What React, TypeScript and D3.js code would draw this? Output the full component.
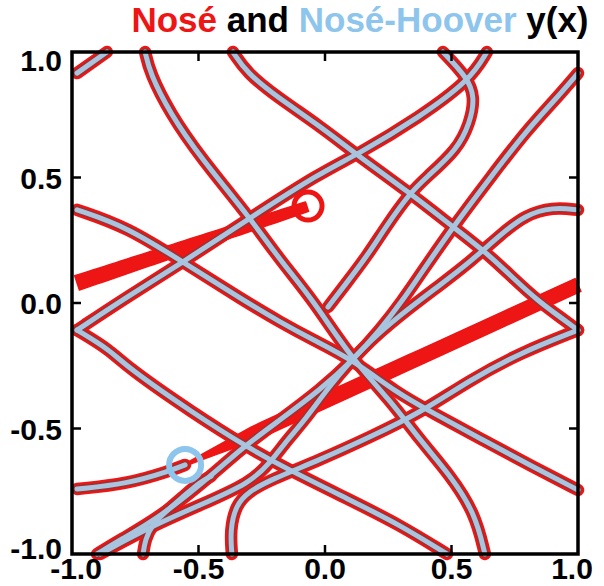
import React from 'react';
import * as d3 from 'd3';

type Pt = [number, number];

// Nosé-Hoover y(x) trajectory pieces, wrapped into the periodic box [-1,1]^2
const strandA: Pt[] = [[-0.98, 0.916], [-0.862, 1.0]];
const strandI: Pt[] = [[1.0, 0.916], [0.909, 0.809], [0.798, 0.689], [0.652, 0.498], [0.506, 0.303], [0.375, 0.112], [0.308, 0.012], [0.217, -0.108], [0.111, -0.227], [-0.02, -0.347], [-0.178, -0.466], [-0.324, -0.574], [-0.455, -0.693], [-0.652, -0.853], [-0.81, -0.944], [-0.901, -1.0]];
const strandB: Pt[] = [[-0.711, 1.0], [-0.692, 0.916], [-0.613, 0.757], [-0.494, 0.582], [-0.296, 0.339], [-0.178, 0.171], [-0.047, 0.012], [0.099, -0.215], [0.257, -0.386], [0.375, -0.546], [0.494, -0.685], [0.593, -0.837], [0.632, -1.0]];
const strandC: Pt[] = [[-0.364, 1.0], [-0.308, 0.916], [-0.19, 0.821], [-0.02, 0.705], [0.126, 0.59], [0.336, 0.438], [0.506, 0.303], [0.64, 0.199], [0.751, 0.092], [0.838, 0.012], [0.929, -0.056], [1.0, -0.108]];
const strandE: Pt[] = [[-0.98, -0.108], [-0.783, 0.024], [-0.561, 0.163], [-0.296, 0.339], [-0.02, 0.518], [0.126, 0.59], [0.375, 0.741], [0.573, 0.888], [0.64, 1.0]];
const strandH: Pt[] = [[0.466, 1.0], [0.561, 0.9], [0.593, 0.821], [0.573, 0.717], [0.522, 0.61], [0.4, 0.5], [0.336, 0.438], [0.245, 0.311], [0.165, 0.185], [0.079, 0.072], [0.012, -0.016]];
const strandL: Pt[] = [[-0.98, -0.108], [-0.85, -0.187], [-0.783, -0.255], [-0.522, -0.438], [-0.308, -0.574], [-0.166, -0.653], [0.099, -0.785], [0.296, -0.884], [0.482, -1.0]];
const strandD: Pt[] = [[-0.98, 0.371], [-0.783, 0.303], [-0.561, 0.163], [-0.324, 0.012], [-0.178, -0.076], [-0.047, -0.147], [0.111, -0.227], [0.285, -0.359], [0.427, -0.438], [0.625, -0.546], [0.822, -0.653], [1.0, -0.745]];
const strandN: Pt[] = [[-0.98, -0.741], [-0.783, -0.721], [-0.613, -0.669], [-0.553, -0.645]];
const strandJ: Pt[] = [[1.0, 0.371], [0.901, 0.382], [0.791, 0.351], [0.692, 0.271], [0.573, 0.163], [0.455, 0.072], [0.296, -0.048], [0.15, -0.175], [0.02, -0.327], [-0.079, -0.466], [-0.15, -0.546], [-0.217, -0.637], [-0.296, -0.717], [-0.494, -0.805], [-0.692, -0.892], [-0.889, -1.0]];
const strandQ: Pt[] = [[1.0, -0.108], [0.771, -0.199], [0.573, -0.307], [0.375, -0.438], [0.178, -0.534], [-0.02, -0.625], [-0.217, -0.705], [-0.304, -0.753], [-0.352, -0.805], [-0.375, -0.904], [-0.368, -1.0]];
const strandP: Pt[] = [[-0.719, -1.0], [-0.711, -0.944], [-0.684, -0.884], [-0.632, -0.833], [-0.553, -0.765], [-0.494, -0.713], [-0.45, -0.69]];

const strands = [strandA, strandI, strandB, strandC, strandE, strandH, strandL, strandD, strandN, strandJ, strandQ, strandP];

// Nosé-only pieces (thick red)
const noseBandStart: Pt[] = [[-0.553, -0.645], [1.0, 0.072]];
const noseBandEnd: Pt[] = [[-0.98, 0.08], [-0.071, 0.384]];

const noseEnd: Pt = [-0.067, 0.386];
const hooverStart: Pt = [-0.553, -0.645];

const xTicks = [-1, -0.5, 0, 0.5, 1];
const yTicks = [-1, -0.5, 0, 0.5, 1];
const tickLabels = ['-1.0', '-0.5', '0.0', '0.5', '1.0'];

const RED = '#ee1515';
const RIM = '#9a3232';
const BLUE = '#a8c4de';
const TITLE_BLUE = '#8ec5ec';
const FONT = '"Liberation Sans", Arial, Helvetica, sans-serif';

const W = 604;
const H = 586;

const x = d3.scaleLinear().domain([-1, 1]).range([72, 578]);
const y = d3.scaleLinear().domain([-1, 1]).range([554, 52]);

const line = d3
  .line<Pt>()
  .x(d => x(d[0]))
  .y(d => y(d[1]))
  .curve(d3.curveBasis);

// tapered band polygon between two centre points (pixel space)
function band(pts: Pt[], w0: number, w1: number, taper: number): string {
  const [a, b] = pts;
  const ax = x(a[0]), ay = y(a[1]), bx = x(b[0]), by = y(b[1]);
  const len = Math.hypot(bx - ax, by - ay);
  const nx = -(by - ay) / len, ny = (bx - ax) / len;
  const n = 40;
  const left: [number, number][] = [];
  const right: [number, number][] = [];
  for (let i = 0; i <= n; i++) {
    const t = i / n;
    const w = w0 + (w1 - w0) * Math.min(1, t / taper);
    const cx = ax + (bx - ax) * t, cy = ay + (by - ay) * t;
    left.push([cx + nx * w / 2, cy + ny * w / 2]);
    right.push([cx - nx * w / 2, cy - ny * w / 2]);
  }
  const poly = left.concat(right.reverse());
  return 'M' + poly.map(p => p[0].toFixed(1) + ',' + p[1].toFixed(1)).join('L') + 'Z';
}

export default function App() {
  const x0 = x(-1), x1 = x(1), y0 = y(-1), y1 = y(1);
  const tickLen = 9;

  return (
    <svg width={W} height={H} style={{ position: 'absolute', left: 0, top: 0, background: '#fff' }}>
      <text x={360} y={32} textAnchor="middle" fontFamily={FONT} fontWeight="bold" fontSize={35}>
        <tspan fill={RED}>Nosé</tspan>
        <tspan fill="#000"> and </tspan>
        <tspan fill={TITLE_BLUE}>Nosé-Hoover</tspan>
        <tspan fill="#000"> y(x)</tspan>
      </text>

      {/* red layer (Nosé) */}
      <g fill="none" stroke={RED} strokeWidth={12.5} strokeLinecap="round" strokeLinejoin="round">
        {strands.map((s, i) => <path key={i} d={line(s) || ''} />)}
      </g>
      <g fill={RED} stroke={RED} strokeWidth={1.5} strokeLinejoin="round">
        <path d={band(noseBandStart, 2, 14, 0.18)} />
        <path d={band(noseBandEnd, 15, 10, 1)} />
      </g>

      {/* dark rim */}
      <g fill="none" stroke={RIM} strokeWidth={8} strokeLinecap="round" strokeLinejoin="round">
        {strands.map((s, i) => <path key={i} d={line(s) || ''} />)}
      </g>

      {/* Nosé-Hoover layer */}
      <g fill="none" stroke={BLUE} strokeWidth={5} strokeLinecap="round" strokeLinejoin="round">
        {strands.map((s, i) => <path key={i} d={line(s) || ''} />)}
      </g>

      <circle cx={x(noseEnd[0])} cy={y(noseEnd[1])} r={14} fill="none" stroke={RED} strokeWidth={5} />
      <circle cx={x(hooverStart[0])} cy={y(hooverStart[1])} r={16} fill="none" stroke={TITLE_BLUE} strokeWidth={6} />

      {/* frame and ticks */}
      <rect x={x0} y={y1} width={x1 - x0} height={y0 - y1} fill="none" stroke="#000" strokeWidth={3.5} />
      <g stroke="#000" strokeWidth={2.5}>
        {xTicks.slice(1, -1).map(t => (
          <g key={'x' + t}>
            <line x1={x(t)} x2={x(t)} y1={y0} y2={y0 - tickLen} />
            <line x1={x(t)} x2={x(t)} y1={y1} y2={y1 + tickLen} />
          </g>
        ))}
        {yTicks.slice(1, -1).map(t => (
          <g key={'y' + t}>
            <line x1={x0} x2={x0 + tickLen} y1={y(t)} y2={y(t)} />
            <line x1={x1} x2={x1 - tickLen} y1={y(t)} y2={y(t)} />
          </g>
        ))}
      </g>

      <g fontFamily={FONT} fontWeight="bold" fontSize={30} fill="#000">
        {yTicks.map((t, i) => {
          const off = i === yTicks.length - 1 ? 19 : i === 0 ? 5 : 11;
          return (
            <text key={'yl' + t} x={62} y={y(t) + off} textAnchor="end">
              {tickLabels[i]}
            </text>
          );
        })}
        {xTicks.map((t, i) => {
          const cx = i === 0 ? x(t) + 4 : i === xTicks.length - 1 ? x(t) - 6 : x(t);
          return (
            <text key={'xl' + t} x={cx} y={579} textAnchor="middle">
              {tickLabels[i]}
            </text>
          );
        })}
      </g>
    </svg>
  );
}
